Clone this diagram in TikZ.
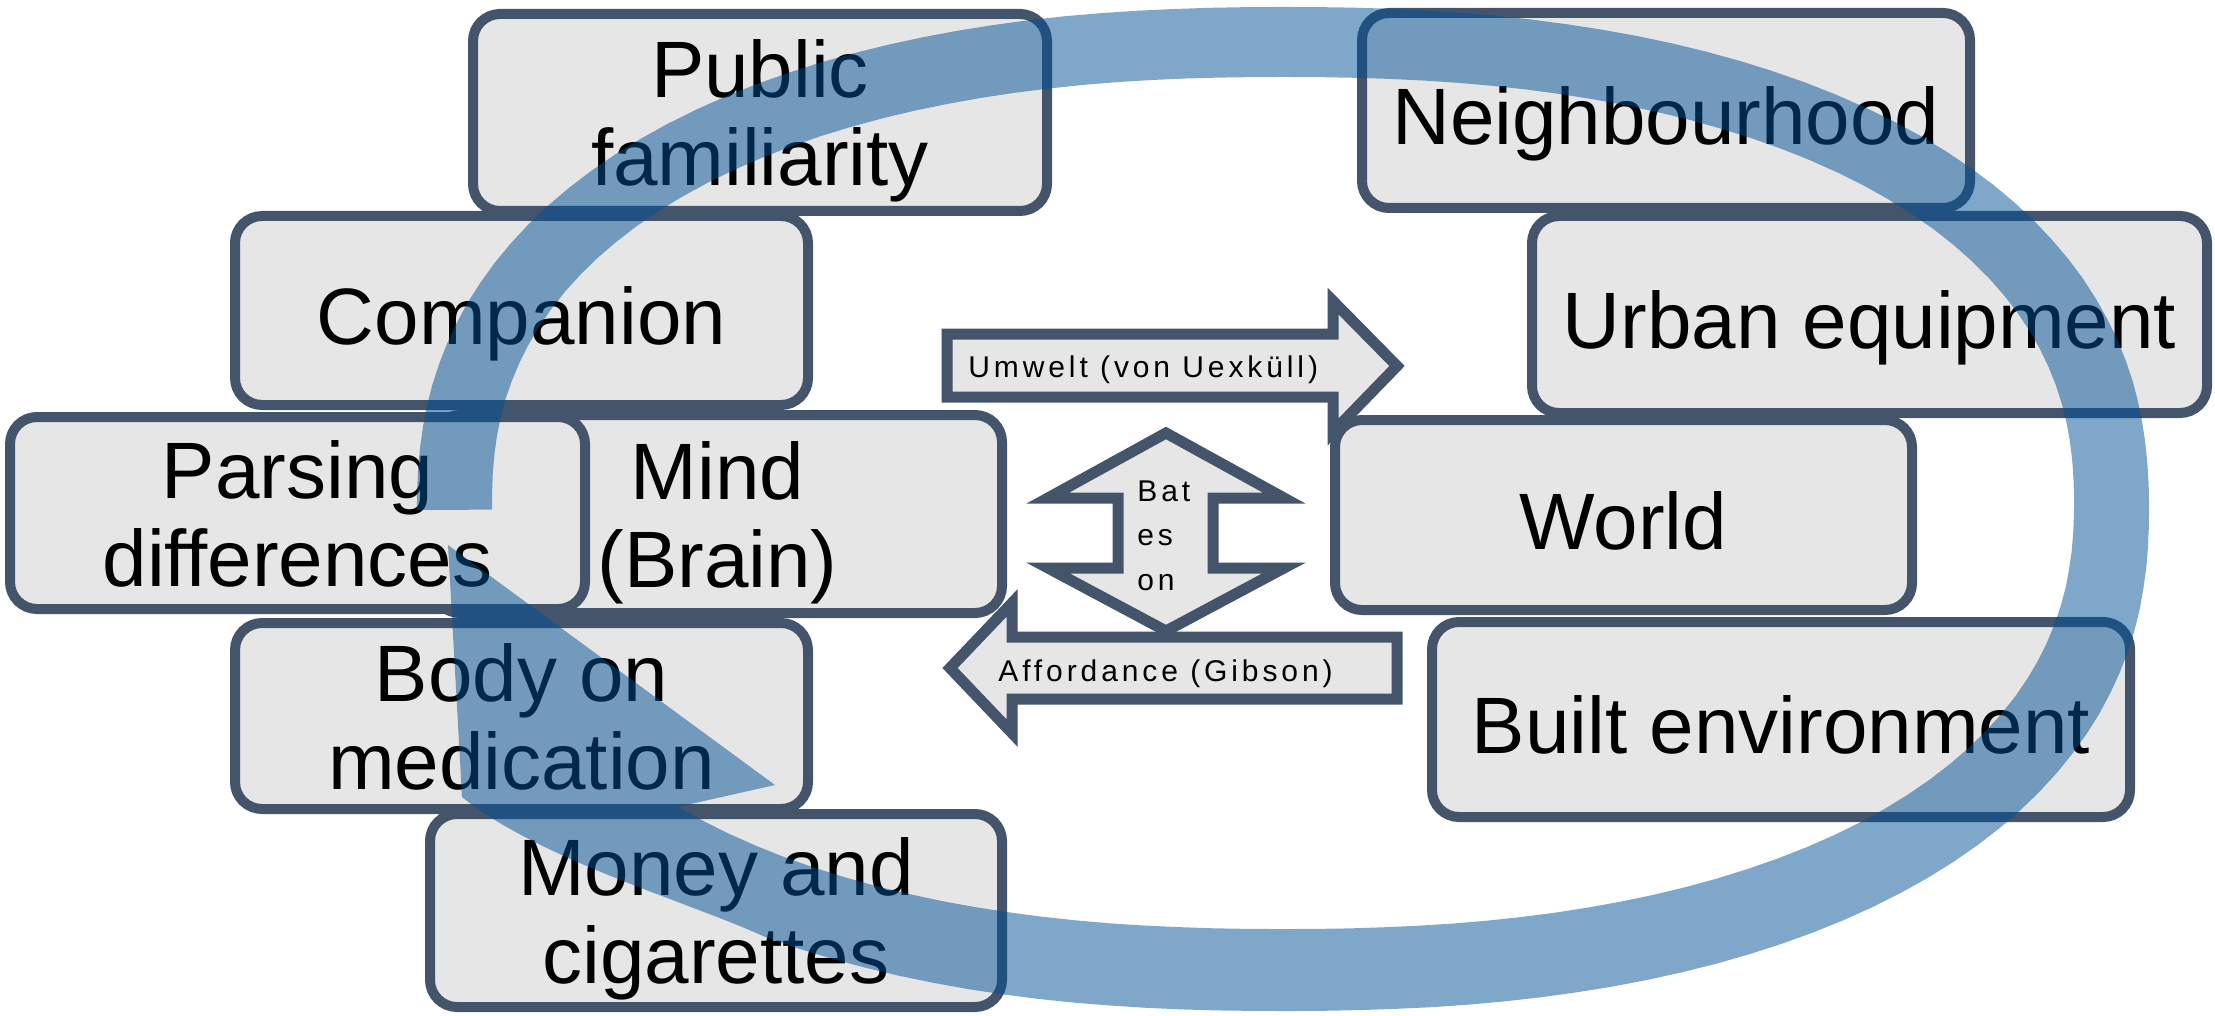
\documentclass[tikz,border=0pt]{standalone}
\usepackage{fontspec}
\setmainfont{Liberation Sans}
\newfontfamily\spacedfont[LetterSpace=13]{Liberation Sans}
\definecolor{boxfill}{HTML}{E6E6E6}
\definecolor{boxline}{HTML}{44546A}
\definecolor{ringblue}{RGB}{0,80,150}
\tikzset{
  box/.style={draw=boxline, fill=boxfill, line width=5pt, rounded corners=13.5pt,
    inner sep=0pt, font=\fontsize{40}{44}\selectfont},
  twoline/.style={text height=0pt, text depth=15pt},
  oneline/.style={text height=34pt, text depth=0pt},
  blockarrow/.style={draw=boxline, fill=boxfill, line width=5.5pt, line join=miter},
  arrowtext/.style={font=\spacedfont\fontsize{15}{22.25}\selectfont, inner sep=0pt},
  ring/.style={fill=ringblue, fill opacity=0.5},
  declare function={
    sek(\t)=pow(pow(abs(cos(\t))+0.0001,2.3)+pow(abs(sin(\t))+0.0001,2.3),-0.4348);
  },
}
\begin{document}
\begin{tikzpicture}[x=0.5pt,y=-0.5pt]
\useasboundingbox (0,0) rectangle (2215,1016);

% left column boxes
\node[box, twoline, minimum width=287pt, minimum height=98.5pt] (pf) at (760,112.5)
  {\begin{tabular}[t]{@{}c@{}}Public\\familiarity\end{tabular}};
\node[box, oneline, minimum width=286.5pt, minimum height=94.5pt] (comp) at (521.5,310.5)
  {Companion};
\node[box, twoline, minimum width=284.5pt, minimum height=99pt] (mind) at (717.5,514)
  {\begin{tabular}[t]{@{}c@{}}Mind\\(Brain)\end{tabular}};
\node[box, twoline, minimum width=287.5pt, minimum height=96pt] (pars) at (297.5,513)
  {\begin{tabular}[t]{@{}c@{}}Parsing\\differences\end{tabular}};
\node[box, twoline, minimum width=286.5pt, minimum height=93pt] (body) at (521.5,716)
  {\begin{tabular}[t]{@{}c@{}}Body on\\medication\end{tabular}};
\node[box, twoline, minimum width=286pt, minimum height=96.5pt] (money) at (716,910.5)
  {\begin{tabular}[t]{@{}c@{}}Money and\\cigarettes\end{tabular}};

% right column boxes
\node[box, oneline, minimum width=304pt, minimum height=97.5pt] (neigh) at (1666,110.5)
  {Neighbourhood};
\node[box, oneline, minimum width=337.5pt, minimum height=98.5pt] (urban) at (1869.5,314.5)
  {Urban equipment};
\node[box, oneline, minimum width=288.5pt, minimum height=95pt] (world) at (1623.5,515)
  {World};
\node[box, oneline, minimum width=349pt, minimum height=97.5pt] (built) at (1781,719.5)
  {Built environment};

% block arrows
\draw[blockarrow] (947,334) -- (1333,334) -- (1333,301) -- (1397,366) -- (1333,432)
  -- (1333,397) -- (947,397) -- cycle;
\node[arrowtext, anchor=base west] (umw) at (968,377) {Umwelt (von Uexküll)};

\draw[blockarrow] (1397,637) -- (1012,637) -- (1012,603) -- (950,668) -- (1012,733)
  -- (1012,699) -- (1397,699) -- cycle;
\node[arrowtext, anchor=base west] (aff) at (998,681) {Affordance (Gibson)};

\draw[blockarrow] (1166,433) -- (1284,498) -- (1213,498) -- (1213,568) -- (1284,568)
  -- (1166,631) -- (1048,568) -- (1118,568) -- (1118,498) -- (1048,498) -- cycle;
\node[arrowtext, anchor=base west] (bat) at (1137,501)
  {\begin{tabular}[t]{@{}l@{}}Bat\\es\\on\end{tabular}};

% circular arrow band
\fill[ring]
  plot[domain=179.9:485, samples=130, variable=\t]
    ({1283+866*cos(\t)*sek(\t)}, {509+502*sin(\t)*sek(\t)})
  .. controls (692,903) and (540,860) .. (462,797)
  -- (448,545) -- (775,785)
  -- plot[domain=0:317.9, samples=130, variable=\s]
    ({1283+791*cos(137-\s)*sek(137-\s)}, {503+426*sin(137-\s)*sek(137-\s)})
  -- cycle;
\end{tikzpicture}
\end{document}
